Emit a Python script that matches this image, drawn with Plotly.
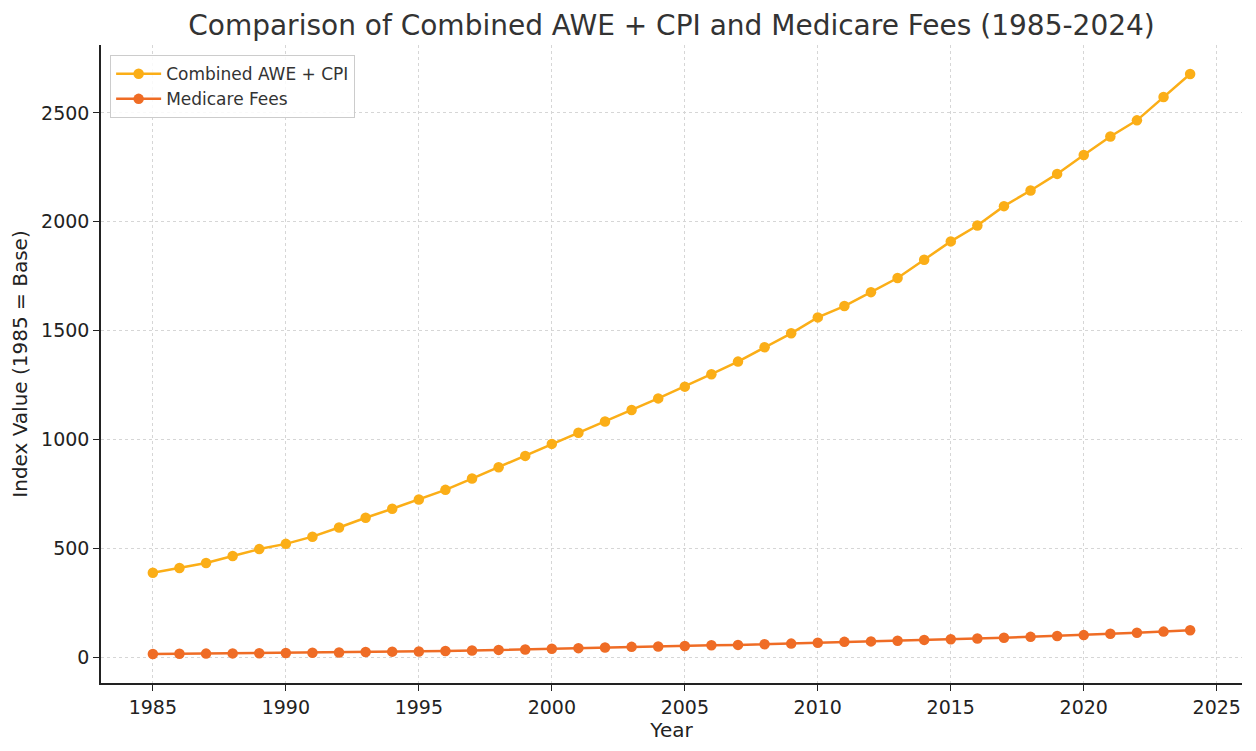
import plotly.graph_objects as go

years = list(range(1985, 2025))

awe_cpi = [388, 410, 433, 465, 497, 521, 554, 596, 641, 682,
           725, 769, 821, 873, 925, 980, 1031, 1083, 1136, 1189,
           1243, 1300, 1358, 1424, 1488, 1561, 1613, 1677, 1742, 1826,
           1910, 1983, 2072, 2144, 2220, 2307, 2392, 2466, 2573, 2679]

medicare = [15, 16, 17, 18, 19, 20, 21, 22, 24, 26,
            27, 29, 31, 34, 36, 39, 42, 45, 48, 50,
            52, 55, 57, 60, 63, 67, 71, 73, 76, 80,
            83, 86, 90, 94, 98, 102, 108, 113, 118, 124]

fig = go.Figure()

fig.add_trace(go.Scatter(
    x=years, y=awe_cpi,
    mode='lines+markers', name='Combined AWE + CPI',
    line=dict(color='#FBAE17', width=2.5),
    marker=dict(size=10.5, color='#FBAE17')
))

fig.add_trace(go.Scatter(
    x=years, y=medicare,
    mode='lines+markers', name='Medicare Fees',
    line=dict(color='#EF6C25', width=2.5),
    marker=dict(size=10.5, color='#EF6C25')
))

axis_style = dict(
    showline=True, linecolor='#222', linewidth=1.5, mirror=False,
    ticks='outside', ticklen=6, tickcolor='#222', tickwidth=1.2,
    showgrid=True, gridcolor='#d6d6d6', griddash='3px,3px', gridwidth=1,
    zeroline=False,
    tickfont=dict(size=19, color='#222'),
)

fig.update_layout(
    width=1256, height=751,
    paper_bgcolor='white', plot_bgcolor='white',
    font=dict(family='DejaVu Sans', color='#333'),
    title=dict(
        text='Comparison of Combined AWE + CPI and Medicare Fees (1985-2024)',
        x=0.5, xref='paper', xanchor='center', y=0.967, yanchor='middle',
        font=dict(size=28, color='#333')
    ),
    margin=dict(l=101, r=14, t=45, b=68),
    xaxis=dict(axis_style, range=[1983.05, 2025.95], dtick=5, tick0=1985,
               title=dict(text='Year', font=dict(size=20, color='#222'), standoff=2)),
    yaxis=dict(axis_style, range=[-118, 2812], dtick=500,
               title=dict(text='Index Value (1985 = Base)', font=dict(size=20, color='#222'), standoff=8)),
    legend=dict(
        x=0.008, y=0.984, xanchor='left', yanchor='top',
        bgcolor='rgba(255,255,255,0.85)', bordercolor='#ccc', borderwidth=1,
        font=dict(size=17, color='#333'),
        itemwidth=45, tracegroupgap=2
    ),
)

fig.write_html('out.html', config={'displayModeBar': False},
               post_script="document.body.style.margin='0';")
